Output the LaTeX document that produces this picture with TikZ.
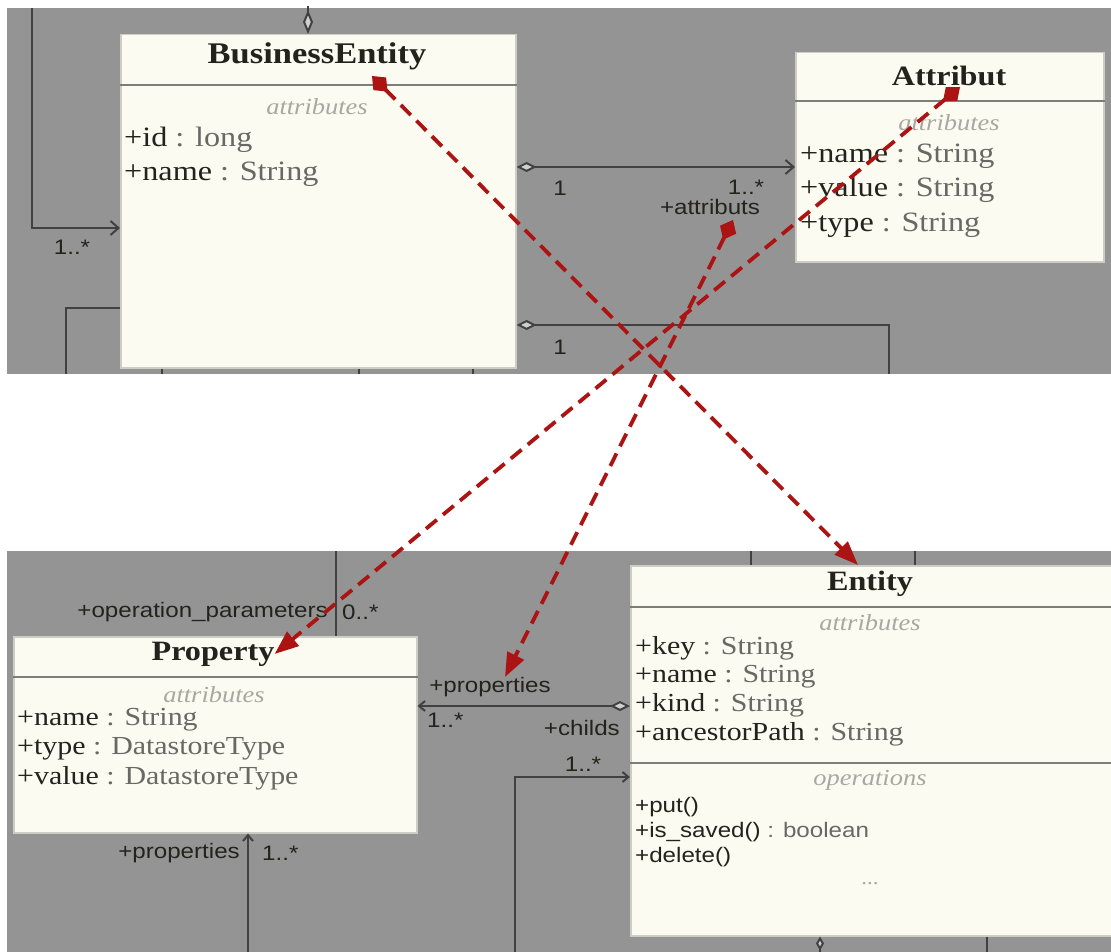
\documentclass[tikz,border=0pt]{standalone}
\usepackage{fontspec}
\setmainfont{Liberation Serif}[FakeStretch=1.15]
\setsansfont{Liberation Sans}[FakeStretch=1.15]
\usetikzlibrary{arrows.meta}
\definecolor{panel}{RGB}{148,148,148}
\definecolor{cream}{RGB}{251,251,242}
\definecolor{boxline}{RGB}{205,205,198}
\definecolor{sepline}{RGB}{125,125,120}
\definecolor{ink}{RGB}{35,35,28}
\definecolor{typegray}{RGB}{105,105,100}
\definecolor{stereo}{RGB}{168,168,160}
\definecolor{wirec}{RGB}{65,65,65}
\definecolor{linkred}{RGB}{172,20,20}
\begin{document}
\begin{tikzpicture}[x=1pt,y=-1pt,
  classbox/.style={draw=boxline, line width=1.5pt, fill=cream, anchor=north west, inner sep=0pt},
  sepl/.style={draw=sepline, line width=2.5pt},
  ctitle/.style={font=\fontsize{28}{30}\selectfont\bfseries, text=ink, inner sep=0pt},
  stereotype/.style={font=\fontsize{23}{25}\selectfont\itshape, text=stereo, inner sep=0pt},
  memb/.style={font=\fontsize{26}{28}\selectfont, text=ink, anchor=west, inner sep=0pt},
  bigmemb/.style={font=\fontsize{28}{30}\selectfont, text=ink, anchor=west, inner sep=0pt},
  opr/.style={font=\sffamily\fontsize{21}{23}\selectfont, text=ink, anchor=west, inner sep=0pt},
  lbl/.style={font=\sffamily\fontsize{21}{23}\selectfont, text=ink, inner sep=0pt},
  wire/.style={draw=wirec, line width=2pt},
  odiam/.style={wire, arrows={Diamond[length=20pt,width=10pt,fill=panel!45!white]-}},
  odiamarrow/.style={wire, arrows={Diamond[length=20pt,width=10pt,fill=panel!45!white]-Straight Barb[length=8pt,width=14pt]}},
  redlink/.style={draw=linkred, line width=3.8pt, dash pattern=on 14pt off 8pt,
    arrows={Diamond[length=22pt,width=18pt,fill=linkred]-Triangle[length=24pt,width=18pt,fill=linkred]}}
]
\useasboundingbox (0,0) rectangle (1111,952);
\clip (0,0) rectangle (1111,952);
\fill[white] (0,0) rectangle (1111,952);
% panels
\fill[panel] (7,8) rectangle (1111,374);
\fill[panel] (7,551) rectangle (1111,952);

% ---------- class boxes ----------
\node[classbox, minimum width=395pt, minimum height=333pt] (be) at (120,34) {};
\node[classbox, minimum width=308pt, minimum height=209pt] (attr) at (795,52) {};
\node[classbox, minimum width=403pt, minimum height=196pt] (prop) at (13,636) {};
\node[classbox, minimum width=485pt, minimum height=370pt] (ent) at (630,565) {};

\draw[sepl] (be.west |- 0,85) -- (be.east |- 0,85);
\draw[sepl] (attr.west |- 0,101) -- (attr.east |- 0,101);
\draw[sepl] (prop.west |- 0,677) -- (prop.east |- 0,677);
\draw[sepl] (ent.west |- 0,607) -- (ent.east |- 0,607);
\draw[sepl] (ent.west |- 0,763) -- (ent.east |- 0,763);

% titles
\node[ctitle, font=\fontsize{30}{32}\selectfont\bfseries] (be-title) at (317,56) {BusinessEntity};
\node[ctitle] (attr-title) at (949,76) {Attribut};
\node[ctitle] (prop-title) at (213,654) {Property};
\node[ctitle] (ent-title) at (870,584) {Entity};

% stereotypes
\node[stereotype] (be-st) at (317,107) {attributes};
\node[stereotype] (attr-st) at (949,123) {attributes};
\node[stereotype] (prop-st) at (214,695) {attributes};
\node[stereotype] (ent-st) at (870,623) {attributes};
\node[stereotype] (ent-op) at (870,780) {operations};

% members
\node[bigmemb] (be-m1) at (124,140) {+id {\color{typegray}: long}};
\node[bigmemb] (be-m2) at (124,174) {+name {\color{typegray}: String}};
\node[bigmemb] (attr-m1) at (800,156) {+name {\color{typegray}: String}};
\node[bigmemb] (attr-m2) at (800,190) {+value {\color{typegray}: String}};
\node[bigmemb] (attr-m3) at (800,225) {+type {\color{typegray}: String}};
\node[memb] (prop-m1) at (17,720) {+name {\color{typegray}: String}};
\node[memb] (prop-m2) at (17,749) {+type {\color{typegray}: DatastoreType}};
\node[memb] (prop-m3) at (17,778) {+value {\color{typegray}: DatastoreType}};
\node[memb] (ent-m1) at (635,648) {+key {\color{typegray}: String}};
\node[memb] (ent-m2) at (635,677) {+name {\color{typegray}: String}};
\node[memb] (ent-m3) at (635,705) {+kind {\color{typegray}: String}};
\node[memb] (ent-m4) at (635,734) {+ancestorPath {\color{typegray}: String}};
\node[opr] (ent-o1) at (635,807) {+put()};
\node[opr] (ent-o2) at (635,832) {+is\_saved() {\color{typegray}: boolean}};
\node[opr] (ent-o3) at (635,857) {+delete()};
\node[stereotype, font=\fontsize{20}{22}\selectfont] (ent-dots) at (870,884) {...};

% ---------- connectors, top panel ----------
\coordinate (topL) at (32,8);
\draw[wire, arrows={-Straight Barb[length=8pt,width=14pt]}] (topL) |- (be.west |- 0,228);
\node[lbl] (l-be1) at (72,247) {1..*};
\coordinate (botL) at (66,374);
\draw[wire] (botL) |- (be.west |- 0,308);
\coordinate (topM) at (308,6);
\draw[wire, arrows={Diamond[length=24pt,width=10pt,fill=panel!45!white]-}] (308,0 |- be.north) -- (topM);
\draw[odiamarrow] (be.east |- 0,167) -- (attr.west |- 0,167);
\node[lbl] (l-be2) at (560,188) {1};
\node[lbl] (l-at1) at (746,187) {1..*};
\node[lbl] (lbl-attributs) at (710,207) {+attributs};
\coordinate (brR) at (889,374);
\draw[odiam] (be.east |- 0,325) -| (brR);
\node[lbl] (l-be3) at (560,347) {1};
\coordinate (t1) at (162,374);
\coordinate (t2) at (359,374);
\coordinate (t3) at (473,374);
\draw[wire] (162,0 |- be.south) -- (t1);
\draw[wire] (359,0 |- be.south) -- (t2);
\draw[wire] (473,0 |- be.south) -- (t3);

% ---------- connectors, bottom panel ----------
\coordinate (pTop) at (336,551);
\draw[wire] (pTop) -- (336,0 |- prop.north);
\node[lbl, anchor=east] (lbl-opp) at (328,612) {+operation\_parameters};
\node[lbl, anchor=west] (lbl-opm) at (342,612) {0..*};

\draw[wire, arrows={Straight Barb[length=6pt,width=10pt]-Diamond[length=20pt,width=10pt,fill=panel!45!white]}] (prop.east |- 0,706) -- (ent.west |- 0,706);
\node[lbl] (lbl-props) at (490,687) {+properties};
\node[lbl, anchor=west] (l-pm) at (427,720) {1..*};
\node[lbl, anchor=east] (lbl-childs) at (620,728) {+childs};

\coordinate (chB) at (515,952);
\draw[wire, arrows={-Straight Barb[length=6pt,width=10pt]}] (chB) |- (ent.west |- 0,777);
\node[lbl] (l-cm) at (583,764) {1..*};

\coordinate (ppB) at (248,952);
\draw[wire, arrows={-Straight Barb[length=6pt,width=10pt]}] (ppB) -- (248,0 |- prop.south);
\node[lbl, anchor=east] (lbl-props2) at (240,853) {+properties};
\node[lbl, anchor=west] (l-pp2) at (262,853) {1..*};

\coordinate (eT1) at (751,551);
\coordinate (eT2) at (915,551);
\draw[wire] (eT1) -- (751,0 |- ent.north);
\draw[wire] (eT2) -- (915,0 |- ent.north);
\coordinate (eB1) at (820,952);
\coordinate (eB2) at (987,952);
\draw[wire, arrows={Diamond[length=14pt,width=8pt,fill=panel!45!white]-}] (820,0 |- ent.south) -- (eB1);
\draw[wire] (987,0 |- ent.south) -- (eB2);

% ---------- red dashed links ----------
\coordinate (beRed) at (372,76);
\coordinate (atRed) at (960,87);
\draw[redlink] (beRed) -- (858,0 |- ent.north);
\draw[redlink] (atRed) -- (prop-title.east);
\draw[redlink] ([xshift=23pt,yshift=-5pt]lbl-attributs.south) -- ([xshift=15pt]lbl-props.north);
\end{tikzpicture}
\end{document}
